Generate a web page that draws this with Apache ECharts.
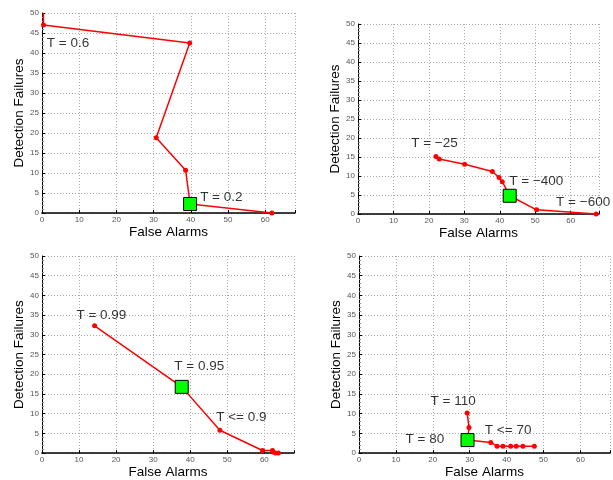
<!DOCTYPE html>
<html>
<head>
<meta charset="utf-8">
<script src="https://cdn.jsdelivr.net/npm/echarts@6/dist/echarts.min.js"></script>
<style>html,body{margin:0;padding:0;background:#fff}#c{width:613px;height:480px}</style>
</head>
<body>
<div id="c"></div>
<script>
// ---- data ----
const xTicks = [0, 10, 20, 30, 40, 50, 60];
const yTicks = [0, 5, 10, 15, 20, 25, 30, 35, 40, 45, 50];
const xLabel = "False Alarms";
const yLabel = "Detection Failures";

// panel 1 (top-left)
const p1X = [0.4, 0.4, 39.7, 30.7, 38.6, 39.8, 61.8];
const p1Y = [50, 47, 42.5, 18.8, 10.7, 2.25, 0];
const p1Sel = [39.8, 2.25];
const p1Labels = [["T = 0.6", 1.3, 42.5], ["T = 0.2", 42.5, 4]];

// panel 2 (top-right)
const p2X = [22.0, 22.9, 30.1, 37.9, 39.8, 40.7, 42.8, 50.4, 67.2];
const p2Y = [15.1, 14.5, 13.1, 11.2, 9.6, 8.5, 4.8, 1.1, 0];
const p2Sel = [42.8, 4.8];
const p2Labels = [["T = \u221225", 15, 18.7], ["T = \u2212400", 42.7, 8.7], ["T = \u2212600", 55.9, 3.2]];

// panel 3 (bottom-left)
const p3X = [14.2, 37.7, 48.0, 59.5, 62.2, 62.3, 63.0, 63.8];
const p3Y = [32.3, 16.8, 5.8, 0.67, 0.67, 0.25, 0, 0];
const p3Sel = [37.7, 16.8];
const p3Labels = [["T = 0.99", 9.3, 35], ["T = 0.95", 35.7, 22], ["T <= 0.9", 47, 9]];

// panel 4 (bottom-right)
const p4X = [29.3, 29.8, 29.4, 35.7, 37.4, 39.0, 41.1, 42.6, 44.4, 47.5];
const p4Y = [10.2, 6.5, 3.3, 2.7, 1.75, 1.75, 1.75, 1.75, 1.75, 1.75];
const p4Sel = [29.4, 3.3];
const p4Labels = [["T = 110", 19.4, 13.25], ["T <= 70", 34.1, 5.75], ["T = 80", 12.6, 3.5]];

const X_MAX = 68, Y_MAX = 50;

// ---- chart ----
const panels = [
  {x: p1X, y: p1Y, sel: p1Sel, labels: p1Labels, grid: {left: 42, top: 13, width: 253, height: 200}},
  {x: p2X, y: p2Y, sel: p2Sel, labels: p2Labels, grid: {left: 358, top: 24, width: 241, height: 190}},
  {x: p3X, y: p3Y, sel: p3Sel, labels: p3Labels, grid: {left: 42, top: 256, width: 252, height: 200}},
  {x: p4X, y: p4Y, sel: p4Sel, labels: p4Labels, grid: {left: 359, top: 256, width: 253, height: 200}}
];

const FONT = "Liberation Sans, Arial, Helvetica, sans-serif";
const grids = [], xAxes = [], yAxes = [], series = [];
panels.forEach((p, i) => {
  grids.push(Object.assign({containLabel: false}, p.grid));
  xAxes.push({
    type: 'value', gridIndex: i, min: 0, max: X_MAX, interval: xTicks[1] - xTicks[0],
    name: xLabel, nameLocation: 'middle', nameGap: 10,
    nameTextStyle: {fontFamily: FONT, fontSize: 13.5, color: '#000', verticalAlign: 'top'},
    axisLine: {show: true, onZero: false, lineStyle: {color: '#000', width: 1.6}},
    axisTick: {show: true, inside: true, length: 3, lineStyle: {color: '#000'}},
    axisLabel: {fontFamily: FONT, fontSize: 8, color: '#555', margin: 3,
      formatter: v => (v % 10 === 0 && v <= xTicks[xTicks.length - 1]) ? String(v) : ''},
    splitLine: {show: true, lineStyle: {type: [1, 2], color: '#aaa', width: 1}}
  });
  yAxes.push({
    type: 'value', gridIndex: i, min: 0, max: Y_MAX, interval: yTicks[1] - yTicks[0],
    name: yLabel, nameLocation: 'middle', nameGap: 15,
    nameTextStyle: {fontFamily: FONT, fontSize: 13.5, color: '#000'},
    axisLine: {show: true, onZero: false, lineStyle: {color: '#000', width: 1}},
    axisTick: {show: true, inside: true, length: 3, lineStyle: {color: '#000'}},
    minorTick: {show: true, splitNumber: 5, length: 2, lineStyle: {color: '#888'}},
    axisLabel: {fontFamily: FONT, fontSize: 8, color: '#555', margin: 3},
    splitLine: {show: true, lineStyle: {type: [1, 2], color: '#aaa', width: 1}}
  });
  series.push({
    type: 'line', xAxisIndex: i, yAxisIndex: i, clip: false,
    data: p.x.map((v, k) => [v, p.y[k]]),
    symbol: 'circle', symbolSize: v => (v[1] >= Y_MAX ? 0 : 5), showSymbol: true,
    lineStyle: {color: '#ff0000', width: 1.5},
    itemStyle: {color: '#ff0000'},
    animation: false, z: 3
  });
  series.push({
    type: 'scatter', xAxisIndex: i, yAxisIndex: i,
    data: [p.sel], symbol: 'rect', symbolSize: 13,
    itemStyle: {color: '#00ff00', borderColor: '#000', borderWidth: 1, opacity: 1},
    animation: false, z: 4
  });
  series.push({
    type: 'scatter', xAxisIndex: i, yAxisIndex: i, symbolSize: 0, silent: true,
    data: p.labels.map(l => ({name: l[0], value: [l[1], l[2]]})),
    label: {show: true, position: [0, 0], align: 'left', verticalAlign: 'middle',
      formatter: '{b}', fontFamily: FONT, fontSize: 13.5, color: '#000'},
    animation: false, z: 5
  });
});

const chart = echarts.init(document.getElementById('c'), null, {renderer: 'canvas'});
chart.setOption({
  animation: false,
  backgroundColor: '#fff',
  grid: grids, xAxis: xAxes, yAxis: yAxes, series: series
});
</script>
</body>
</html>
